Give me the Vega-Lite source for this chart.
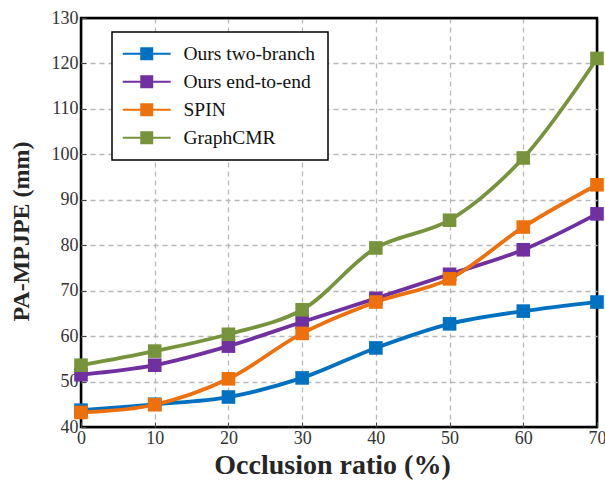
{
  "$schema": "https://vega.github.io/schema/vega-lite/v6.json",
  "width": 516,
  "height": 409,
  "autosize": {"type": "none"},
  "padding": {"left": 81, "top": 18, "right": 8, "bottom": 60},
  "background": "white",
  "config": {
    "font": "Liberation Serif",
    "view": {"stroke": "black", "strokeWidth": 2.5},
    "axis": {
      "labelFont": "Liberation Serif",
      "labelFontSize": 18,
      "labelColor": "#333333",
      "titleFont": "Liberation Serif",
      "titleFontWeight": "bold",
      "titleColor": "#262626",
      "gridWidth": 1.3,
      "domain": false,
      "ticks": true,
      "tickSize": -5,
      "tickColor": "#444444",
      "tickWidth": 1
    },
    "legend": {
      "labelFont": "Liberation Serif",
      "labelFontSize": 19.5,
      "labelColor": "#111111"
    }
  },
  "data": {
    "values": [
      {"ratio": 0, "method": "Ours two-branch", "value": 43.7},
      {"ratio": 10, "method": "Ours two-branch", "value": 45.0},
      {"ratio": 20, "method": "Ours two-branch", "value": 46.6},
      {"ratio": 30, "method": "Ours two-branch", "value": 50.8},
      {"ratio": 40, "method": "Ours two-branch", "value": 57.4},
      {"ratio": 50, "method": "Ours two-branch", "value": 62.7},
      {"ratio": 60, "method": "Ours two-branch", "value": 65.5},
      {"ratio": 70, "method": "Ours two-branch", "value": 67.5},
      {"ratio": 0, "method": "Ours end-to-end", "value": 51.5},
      {"ratio": 10, "method": "Ours end-to-end", "value": 53.6},
      {"ratio": 20, "method": "Ours end-to-end", "value": 57.8},
      {"ratio": 30, "method": "Ours end-to-end", "value": 63.1},
      {"ratio": 40, "method": "Ours end-to-end", "value": 68.3},
      {"ratio": 50, "method": "Ours end-to-end", "value": 73.6},
      {"ratio": 60, "method": "Ours end-to-end", "value": 79.0},
      {"ratio": 70, "method": "Ours end-to-end", "value": 86.9},
      {"ratio": 0, "method": "SPIN", "value": 43.2},
      {"ratio": 10, "method": "SPIN", "value": 44.9},
      {"ratio": 20, "method": "SPIN", "value": 50.6},
      {"ratio": 30, "method": "SPIN", "value": 60.6},
      {"ratio": 40, "method": "SPIN", "value": 67.5},
      {"ratio": 50, "method": "SPIN", "value": 72.6},
      {"ratio": 60, "method": "SPIN", "value": 84.0},
      {"ratio": 70, "method": "SPIN", "value": 93.3},
      {"ratio": 0, "method": "GraphCMR", "value": 53.6},
      {"ratio": 10, "method": "GraphCMR", "value": 56.7},
      {"ratio": 20, "method": "GraphCMR", "value": 60.4},
      {"ratio": 30, "method": "GraphCMR", "value": 65.8},
      {"ratio": 40, "method": "GraphCMR", "value": 79.4},
      {"ratio": 50, "method": "GraphCMR", "value": 85.5},
      {"ratio": 60, "method": "GraphCMR", "value": 99.2},
      {"ratio": 70, "method": "GraphCMR", "value": 121.1}
    ]
  },
  "encoding": {
    "x": {
      "field": "ratio",
      "type": "quantitative",
      "scale": {"domain": [0, 70], "nice": false},
      "axis": {
        "values": [0, 10, 20, 30, 40, 50, 60, 70],
        "title": "Occlusion ratio (%)",
        "titleFontSize": 28,
        "titleX": 251,
        "labelPadding": 7,
        "titlePadding": 4,
        "labelFlush": false,
        "gridColor": {"condition": {"test": "datum.value <= 0 || datum.value >= 70", "value": "black"}, "value": "#b8b8b8"},
        "gridDash": {"condition": {"test": "datum.value <= 0 || datum.value >= 70", "value": []}, "value": [5, 4]}
      }
    },
    "y": {
      "field": "value",
      "type": "quantitative",
      "scale": {"domain": [40, 130], "nice": false, "zero": false},
      "axis": {
        "values": [40, 50, 60, 70, 80, 90, 100, 110, 120, 130],
        "title": "PA-MPJPE (mm)",
        "titleFontSize": 24,
        "titleY": 213,
        "labelPadding": 8,
        "titlePadding": 18,
        "gridColor": {"condition": {"test": "datum.value <= 40 || datum.value >= 130", "value": "black"}, "value": "#b8b8b8"},
        "gridDash": {"condition": {"test": "datum.value <= 40 || datum.value >= 130", "value": []}, "value": [5, 4]}
      }
    },
    "color": {
      "field": "method",
      "type": "nominal",
      "sort": ["Ours two-branch", "Ours end-to-end", "SPIN", "GraphCMR"],
      "scale": {
        "domain": ["Ours two-branch", "Ours end-to-end", "SPIN", "GraphCMR"],
        "range": ["#0070C0", "#7030A0", "#EE700D", "#77933C"]
      },
      "legend": {
        "title": null,
        "orient": "none",
        "legendX": 31,
        "legendY": 14,
        "strokeColor": "black",
        "fillColor": "white",
        "padding": 12,
        "rowPadding": 7,
        "symbolSize": 196,
        "symbolType": "M-1.57,-0.13H5.28V0.13H-1.57Z M0.93,-0.93H2.78V0.93H0.93Z",
        "symbolStrokeWidth": 0,
        "labelOffset": 40,
        "encode": {"legend": {"update": {"strokeWidth": {"value": 1.5}}}}
      }
    }
  },
  "layer": [
    {
      "mark": {"type": "line", "interpolate": "catmull-rom", "strokeWidth": 3.8}
    },
    {
      "mark": {"type": "point", "shape": "square", "filled": true, "size": 185, "opacity": 1}
    }
  ]
}
